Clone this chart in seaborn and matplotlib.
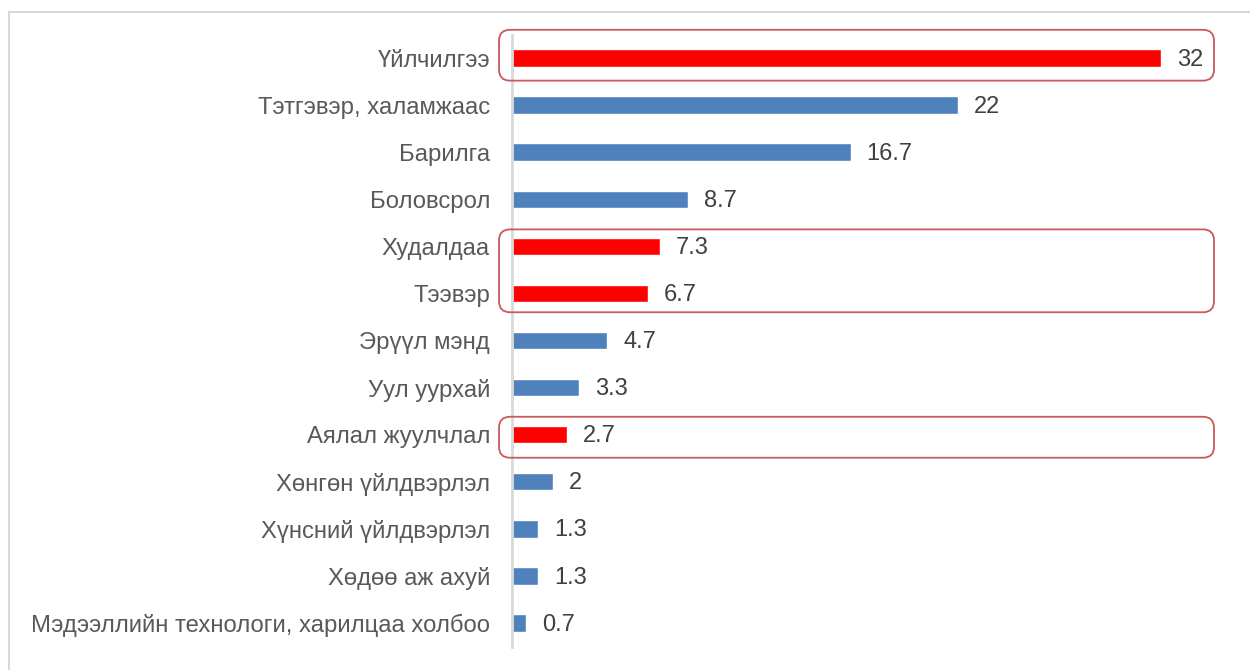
import matplotlib
matplotlib.use("Agg")
import matplotlib.pyplot as plt
import seaborn as sns
import pandas as pd
from matplotlib.patches import FancyBboxPatch, Rectangle
from matplotlib.transforms import IdentityTransform

# Sectors and their shares (%)
categories = [
    "Үйлчилгээ",
    "Тэтгэвэр, халамжаас",
    "Барилга",
    "Боловсрол",
    "Худалдаа",
    "Тээвэр",
    "Эрүүл мэнд",
    "Уул уурхай",
    "Аялал жуулчлал",
    "Хөнгөн үйлдвэрлэл",
    "Хүнсний үйлдвэрлэл",
    "Хөдөө аж ахуй",
    "Мэдээллийн технологи, харилцаа холбоо",
]
values = [32, 22, 16.7, 8.7, 7.3, 6.7, 4.7, 3.3, 2.7, 2, 1.3, 1.3, 0.7]
highlighted = ["Үйлчилгээ", "Худалдаа", "Тээвэр", "Аялал жуулчлал"]

# Groups of rows framed together, with the frame's top / bottom padding in rows
frame_groups = [["Үйлчилгээ"], ["Худалдаа", "Тээвэр"], ["Аялал жуулчлал"]]
frame_pads = [(0.6, 0.48), (0.36, 0.4), (0.38, 0.49)]

df = pd.DataFrame({"sector": categories, "share": values})
df["group"] = ["focus" if c in highlighted else "other" for c in categories]

sns.set_theme(style="white")
plt.rcParams["font.family"] = ["Liberation Sans", "DejaVu Sans"]

W, H = 1250, 670
fig = plt.figure(figsize=(W / 100, H / 100), dpi=100)

x_left_px, px_per_unit = 512, 20.28
xmax = 34.0
ax_top_px, ax_bot_px = 34.5, 646.5
ax = fig.add_axes([x_left_px / W, 1 - ax_bot_px / H,
                   xmax * px_per_unit / W, (ax_bot_px - ax_top_px) / H])

sns.barplot(data=df, x="share", y="sector", hue="group",
            palette={"focus": "#FF0000", "other": "#4F81BD"},
            dodge=False, width=0.37, legend=False, ax=ax,
            order=categories, saturation=1)

ax.set_xlim(0, xmax)
ax.set_ylim(len(categories) - 0.5, -0.5)
ax.set_xlabel("")
ax.set_ylabel("")
ax.set_xticks([])
for s in ["top", "right", "bottom"]:
    ax.spines[s].set_visible(False)
ax.spines["left"].set_color("#D9D9D9")
ax.spines["left"].set_linewidth(2)
ax.tick_params(axis="y", length=0, pad=15.8, labelsize=17.2, labelcolor="#595959")

# Value labels at bar ends
for i, v in enumerate(values):
    ax.annotate(f"{v:g}", xy=(v, i), xytext=(11.5, -1.2), textcoords="offset points",
                ha="left", va="center", fontsize=17, color="#404040")

# Rounded frames around highlighted rows, drawn in pixel space
x_lo = -0.64
x_hi = (1214 - x_left_px) / px_per_unit
for grp, (pad_top, pad_bot) in zip(frame_groups, frame_pads):
    r0 = categories.index(grp[0])
    r1 = categories.index(grp[-1])
    (px0, py0) = ax.transData.transform((x_lo, r1 + pad_bot))
    (px1, py1) = ax.transData.transform((x_hi, r0 - pad_top))
    box = FancyBboxPatch((px0, py0), px1 - px0, py1 - py0,
                         boxstyle="round,pad=0,rounding_size=11",
                         transform=IdentityTransform(),
                         facecolor="none", edgecolor="#C9595A", linewidth=1.3,
                         clip_on=False, zorder=5)
    fig.patches.append(box)

# Outer chart frame
fig.patches.append(Rectangle((9 / W, -0.1), 1.2, 1 - 12 / H + 0.1,
                             transform=fig.transFigure, facecolor="none",
                             edgecolor="#D9D9D9", linewidth=1.5))

fig.savefig("out.png", dpi=100, facecolor="white")
